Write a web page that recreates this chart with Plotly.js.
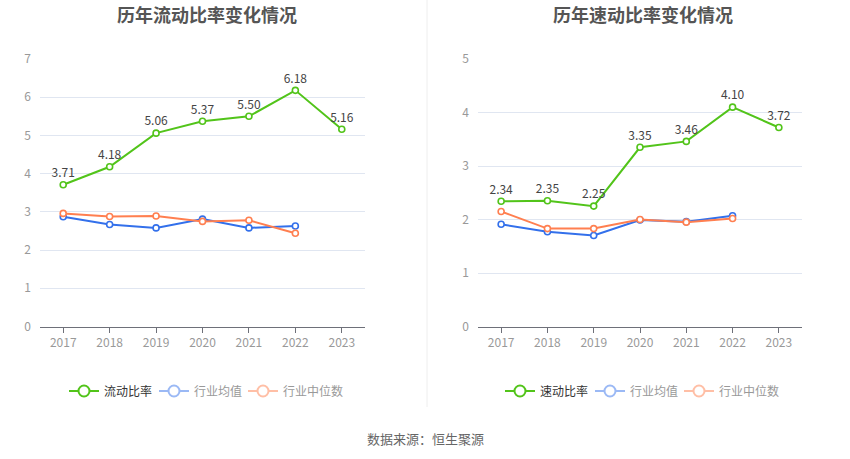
<!DOCTYPE html>
<html>
<head>
<meta charset="utf-8">
<script src="https://cdn.plot.ly/plotly-3.0.1.min.js"></script>
<style>
html,body{margin:0;padding:0;background:#fff;}
#chart{width:850px;height:459px;}
</style>
</head>
<body>
<div id="chart"></div>
<script>
// ---- data ----
const years = ['2017','2018','2019','2020','2021','2022','2023'];
const currentRatio = [3.71, 4.18, 5.06, 5.37, 5.50, 6.18, 5.16];
const currentIndustryAvg = [2.87, 2.67, 2.58, 2.81, 2.58, 2.63];
const currentIndustryMedian = [2.96, 2.88, 2.89, 2.75, 2.78, 2.44];
const quickRatio = [2.34, 2.35, 2.25, 3.35, 3.46, 4.10, 3.72];
const quickIndustryAvg = [1.91, 1.77, 1.70, 1.99, 1.96, 2.07];
const quickIndustryMedian = [2.15, 1.83, 1.83, 2.00, 1.95, 2.02];
const leftTitle = '历年流动比率变化情况';
const rightTitle = '历年速动比率变化情况';
const legendLeft = ['流动比率', '行业均值', '行业中位数'];
const legendRight = ['速动比率', '行业均值', '行业中位数'];
const sourceText = '数据来源：恒生聚源';

const GREEN = '#52c41a';
const BLUE = '#3370eb';
const ORANGE = '#ff7f50';
const GREEN_L = '#52c41a';
const BLUE_L = '#9bb9f5';
const ORANGE_L = '#ffbfa6';
const FONT = '"Noto Sans CJK SC", "Noto Sans", sans-serif';

function line(x, y, color, xa, ya, withText) {
  const t = {
    type: 'scatter', mode: withText ? 'lines+markers+text' : 'lines+markers',
    x: x, y: y, xaxis: xa, yaxis: ya, showlegend: false,
    line: {color: color, width: 2},
    marker: {symbol: 'circle', size: 6, color: '#fff', line: {color: color, width: 1.6}},
    cliponaxis: false, hoverinfo: 'x+y'
  };
  if (withText) {
    t.texttemplate = '%{y:.2f}';
    t.textposition = 'top center';
    t.textfont = {size: 12, color: '#444', family: FONT};
  }
  return t;
}
function legendItem(name, color, xa, ya, leg, grey) {
  return {
    type: 'scatter', mode: 'lines+markers', x: [null], y: [null], xaxis: xa, yaxis: ya,
    name: grey ? '<span style="color:#999">' + name + '</span>' : name,
    legend: leg,
    line: {color: color, width: 2},
    marker: {symbol: 'circle', size: 11, color: '#fff', line: {color: color, width: 2}}
  };
}

const data = [
  line(years, currentIndustryAvg, BLUE, 'x', 'y', false),
  line(years, currentIndustryMedian, ORANGE, 'x', 'y', false),
  line(years, currentRatio, GREEN, 'x', 'y', true),
  line(years, quickIndustryAvg, BLUE, 'x2', 'y2', false),
  line(years, quickIndustryMedian, ORANGE, 'x2', 'y2', false),
  line(years, quickRatio, GREEN, 'x2', 'y2', true),
  legendItem(legendLeft[0], GREEN_L, 'x', 'y', 'legend', false),
  legendItem(legendLeft[1], BLUE_L, 'x', 'y', 'legend2', true),
  legendItem(legendLeft[2], ORANGE_L, 'x', 'y', 'legend3', true),
  legendItem(legendRight[0], GREEN_L, 'x2', 'y2', 'legend4', false),
  legendItem(legendRight[1], BLUE_L, 'x2', 'y2', 'legend5', true),
  legendItem(legendRight[2], ORANGE_L, 'x2', 'y2', 'legend6', true)
];

const W = 850, H = 459;
const xAxisBase = {
  type: 'category', range: [-0.5, 6.5], fixedrange: true,
  showgrid: false, zeroline: false,
  showline: true, linecolor: '#6e7079', linewidth: 1,
  ticks: 'outside', ticklen: 5, tickcolor: '#6e7079', tickwidth: 1,
  tickfont: {size: 12, color: '#999', family: FONT}
};
const yAxisBase = {
  fixedrange: true, showline: false, zeroline: false,
  showgrid: true, gridcolor: '#e0e6f1', gridwidth: 1,
  ticks: '', tickfont: {size: 12, color: '#999', family: FONT},
  ticklabelstandoff: 8
};
function leg(xpx) {
  return {
    orientation: 'h', yanchor: 'middle', xanchor: 'left', x: xpx / W, y: 1 - 391 / H,
    font: {size: 12, color: '#333', family: FONT},
    bgcolor: 'rgba(0,0,0,0)', itemwidth: 30,
    itemclick: false, itemdoubleclick: false
  };
}

const layout = {
  width: W, height: H,
  margin: {l: 0, r: 0, t: 0, b: 0},
  paper_bgcolor: '#fff', plot_bgcolor: '#fff',
  font: {family: FONT},
  xaxis: Object.assign({}, xAxisBase, {domain: [40/W, 365/W], anchor: 'y'}),
  yaxis: Object.assign({}, yAxisBase, {domain: [1-326.5/H, 1-59/H], range: [0, 7], dtick: 1, anchor: 'x'}),
  xaxis2: Object.assign({}, xAxisBase, {domain: [478/W, 802/W], anchor: 'y2'}),
  yaxis2: Object.assign({}, yAxisBase, {domain: [1-326.5/H, 1-59/H], range: [0, 5], dtick: 1, anchor: 'x2'}),
  legend: leg(64),
  legend2: leg(154),
  legend3: leg(243),
  legend4: leg(500),
  legend5: leg(590),
  legend6: leg(679),
  shapes: [
    {type: 'line', xref: 'paper', yref: 'paper', x0: 427/W, x1: 427/W, y0: 1-407/H, y1: 1,
     line: {color: '#eeeeee', width: 1}}
  ],
  annotations: [
    {text: '<b>' + leftTitle + '</b>', xref: 'paper', yref: 'paper', x: 207/W, y: 1-14/H,
     xanchor: 'center', yanchor: 'middle', showarrow: false,
     font: {size: 18, color: '#555', family: FONT}},
    {text: '<b>' + rightTitle + '</b>', xref: 'paper', yref: 'paper', x: 643/W, y: 1-14/H,
     xanchor: 'center', yanchor: 'middle', showarrow: false,
     font: {size: 18, color: '#555', family: FONT}},
    {text: sourceText, xref: 'paper', yref: 'paper', x: 425/W, y: 1-438/H,
     xanchor: 'center', yanchor: 'middle', showarrow: false,
     font: {size: 13, color: '#666', family: FONT}}
  ],
  hovermode: 'closest'
};

Plotly.newPlot('chart', data, layout, {displayModeBar: false});
</script>
</body>
</html>
